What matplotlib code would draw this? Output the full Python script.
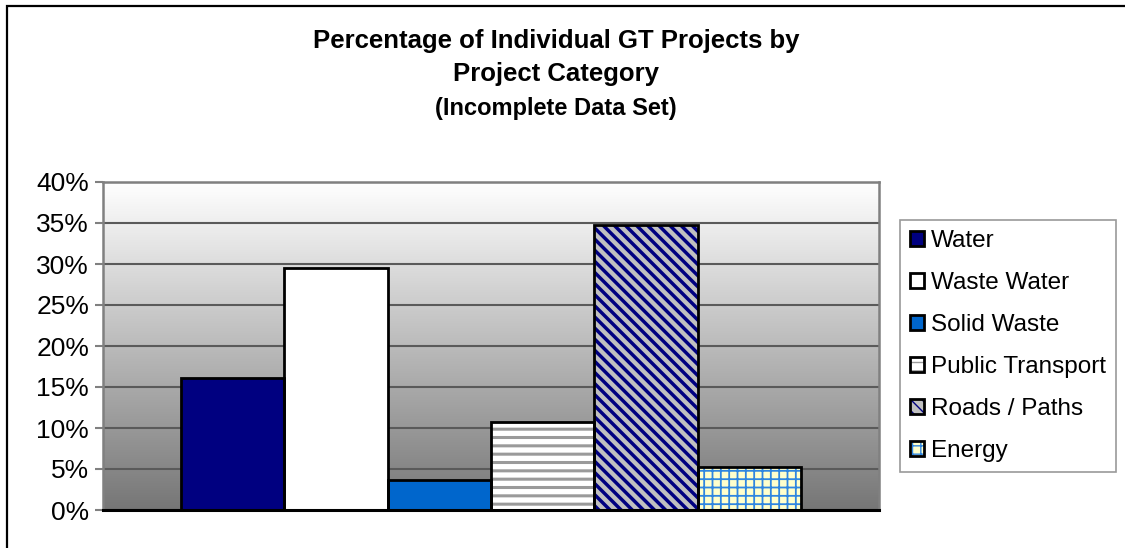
import numpy as np
import matplotlib
matplotlib.use('Agg')
import matplotlib.pyplot as plt
from matplotlib.colors import LinearSegmentedColormap
from matplotlib.patches import Rectangle
from matplotlib.legend_handler import HandlerTuple

plt.rcParams['font.family'] = ['Liberation Sans', 'DejaVu Sans']

# Data
categories = ['Water', 'Waste Water', 'Solid Waste', 'Public Transport',
              'Roads / Paths', 'Energy']
shares = [16.1, 29.5, 3.7, 10.7, 34.8, 5.2]
yticks = [0, 5, 10, 15, 20, 25, 30, 35, 40]
ytick_labels = ['%d%%' % t for t in yticks]
title_lines = ['Percentage of Individual GT Projects by', 'Project Category',
               '(Incomplete Data Set)']

# Excel-ish fill styles: (face, hatch, hatch colour, hatch width)
styles = [
    ('#000080', '', '#000080', 1.0),
    ('#ffffff', '', '#ffffff', 1.0),
    ('#0066cc', '', '#0066cc', 1.0),
    ('#ffffff', '--', '#9a9a9a', 2.2),
    ('#c0c0c0', '\\\\\\', '#000080', 2.5),
    ('#ffffcc', '++', '#2f86e0', 1.3),
]

fig = plt.figure(figsize=(11.25, 5.48), dpi=100)
ax = fig.add_axes([103/1125, 1 - 510/548, (879 - 103)/1125, (510 - 182)/548])

xlim = (-1.25, 6.25)
ylim = (0, 40)

# gradient background of the plot area
grad = LinearSegmentedColormap.from_list('bg', ['#767676', '#ffffff'])
ax.imshow(np.linspace(0, 1, 256).reshape(-1, 1), extent=[*xlim, *ylim],
          origin='lower', aspect='auto', cmap=grad, zorder=0)

x = np.arange(len(categories))
handles = []
for i, (cat, val) in enumerate(zip(categories, shares)):
    face, hatch, hcol, hlw = styles[i]
    with plt.rc_context({'hatch.linewidth': hlw}):
        fill = ax.bar(x[i], val, width=1.0, color=face, hatch=hatch,
                      edgecolor=hcol, linewidth=0, zorder=2)[0]
        if hasattr(fill, 'set_hatch_linewidth'):
            fill.set_hatch_linewidth(hlw)
    outline = ax.bar(x[i], val, width=1.0, fill=False, edgecolor='black',
                     linewidth=2.0, zorder=3)[0]
    handles.append((fill, outline))

ax.set_xlim(*xlim)
ax.set_ylim(*ylim)
ax.set_xticks([])
ax.set_yticks(yticks)
ax.set_yticklabels(ytick_labels, fontsize=19)
ax.yaxis.grid(True, color='#5a5a5a', linewidth=1.5)
ax.set_axisbelow(True)
ax.tick_params(axis='y', direction='out', length=6, width=1.5,
               color='#808080', pad=4)

for side in ['left', 'top', 'right']:
    ax.spines[side].set_color('#808080')
    ax.spines[side].set_linewidth(1.8)
ax.spines['bottom'].set_color('black')
ax.spines['bottom'].set_linewidth(2.2)

leg = fig.legend(handles, categories, loc='upper left',
                 bbox_to_anchor=(900/1125, 1 - 220/548),
                 handler_map={tuple: HandlerTuple(ndivide=1, pad=0)},
                 fontsize=17.5, frameon=True, fancybox=False,
                 handlelength=0.55, handleheight=0.55, handletextpad=0.3,
                 labelspacing=0.82, borderpad=0.42, borderaxespad=0)
leg.get_frame().set_edgecolor('#808080')
leg.get_frame().set_linewidth(1.2)

# title, three lines
cx = 556/1125
fig.text(cx, 1 - 41/548, title_lines[0], ha='center', va='center',
         fontsize=18.5, fontweight='bold')
fig.text(cx, 1 - 74/548, title_lines[1], ha='center', va='center',
         fontsize=18.5, fontweight='bold')
fig.text(cx, 1 - 109/548, title_lines[2], ha='center', va='center',
         fontsize=17, fontweight='bold')

# chart area border, runs off the right and bottom edge
fig.add_artist(Rectangle((7/1125, -0.05), 1.2, 1 - 6/548 + 0.05,
                         transform=fig.transFigure, fill=False,
                         edgecolor='black', linewidth=1.6, clip_on=False))

fig.savefig('out.png', dpi=100)
